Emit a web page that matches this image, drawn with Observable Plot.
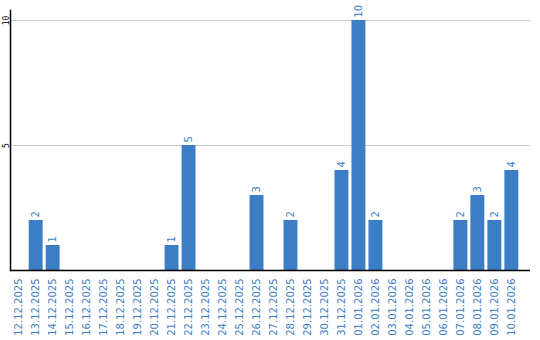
<!DOCTYPE html>
<html><head><meta charset="utf-8">
<script src="https://cdn.jsdelivr.net/npm/d3@7"></script>
<script src="https://cdn.jsdelivr.net/npm/@observablehq/plot@0.6"></script>
<style>body{margin:0;background:#fff}</style>
</head><body><div id="chart"></div>
<script>
const dates = ["12.12.2025","13.12.2025","14.12.2025","15.12.2025","16.12.2025","17.12.2025","18.12.2025","19.12.2025","20.12.2025","21.12.2025","22.12.2025","23.12.2025","24.12.2025","25.12.2025","26.12.2025","27.12.2025","28.12.2025","29.12.2025","30.12.2025","31.12.2025","01.01.2026","02.01.2026","03.01.2026","04.01.2026","05.01.2026","06.01.2026","07.01.2026","08.01.2026","09.01.2026","10.01.2026"];
const counts = [0,2,1,0,0,0,0,0,0,1,5,0,0,0,3,0,2,0,0,4,10,2,0,0,0,0,2,3,2,4];
const yTicks = [5,10];
const data = dates.map((d,i)=>({date:d, value:counts[i]}));
const blue = "#3b7ec5";
const chart = Plot.plot({
  width:540, height:340,
  marginLeft:10, marginRight:10, marginTop:10, marginBottom:70,
  style:{fontFamily:"DejaVu Sans", background:"#fff"},
  x:{domain:dates, insetRight:10, paddingInner:0.18, paddingOuter:0.1, round:false, label:null},
  y:{domain:[0,10], range:[270,20], label:null},
  marks:[
    Plot.gridY(yTicks, {stroke:"#c8c8c8", strokeOpacity:1}),
    Plot.barY(data.filter(d=>d.value>0), {x:"date", y:"value", fill:blue}),
    Plot.text(data.filter(d=>d.value>0), {x:"date", y:"value", text:d=>String(d.value), rotate:-90, textAnchor:"start", lineAnchor:"middle", dy:-3, fill:blue, fontSize:10}),
    Plot.axisX({tickSize:0, tickPadding:8, tickRotate:-90, fill:blue, fontSize:10, label:null}),
    Plot.axisY({ticks:yTicks, tickSize:0, tickPadding:2, tickRotate:-90, fontSize:8, fontFamily:"DejaVu Sans Mono", label:null}),
    Plot.frame({anchor:"left", stroke:"#000", strokeWidth:1.5}),
    Plot.ruleY([0], {stroke:"#000", strokeWidth:1.5})
  ]
});
document.getElementById("chart").append(chart);
</script></body></html>
